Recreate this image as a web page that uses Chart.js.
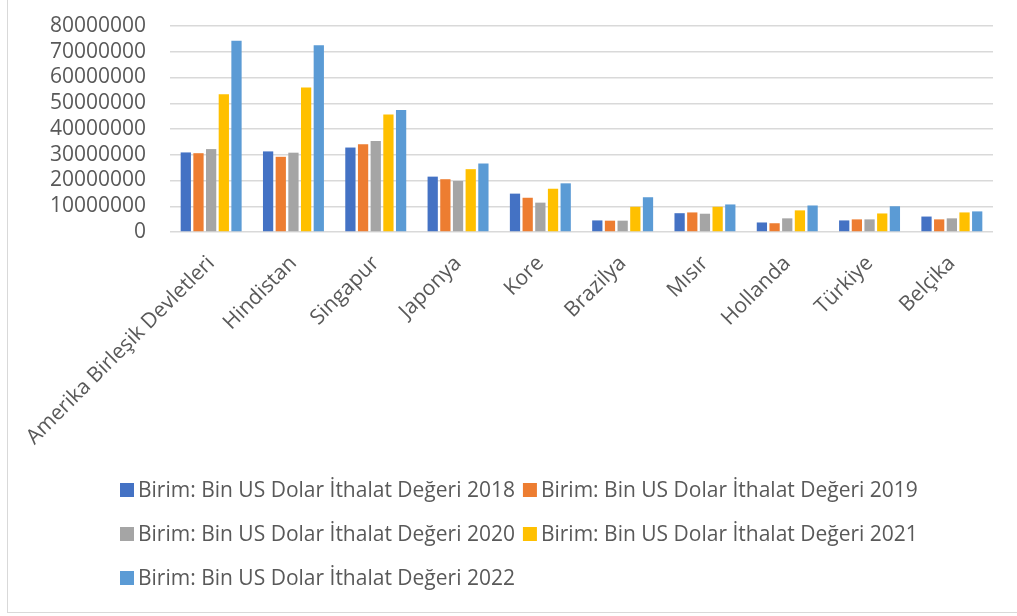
<!DOCTYPE html>
<html lang="tr">
<head>
<meta charset="utf-8">
<title>İthalat Değeri</title>
<script src="https://cdn.jsdelivr.net/npm/chart.js@4/dist/chart.umd.min.js"></script>
<style>
    html, body { margin: 0; padding: 0; background: #ffffff; overflow: hidden; }
    #wrap { position: relative; width: 1017px; height: 616px; }
    #frame {
        position: absolute; left: 7px; top: 0; width: 1100px; height: 612px;
        border-left: 1.5px solid #d9d9d9; border-bottom: 1.5px solid #d9d9d9;
        pointer-events: none;
    }
</style>
</head>
<body>
<div id="wrap">
    <canvas id="importChart"></canvas>
    <div id="frame"></div>
</div>
<script>
// categories (countries)
const countries = ['Amerika Birleşik Devletleri', 'Hindistan', 'Singapur', 'Japonya', 'Kore',
    'Brazilya', 'Mısır', 'Hollanda', 'Türkiye', 'Belçika'];

// series labels
const seriesLabels = [
    'Birim: Bin US Dolar İthalat Değeri 2018',
    'Birim: Bin US Dolar İthalat Değeri 2019',
    'Birim: Bin US Dolar İthalat Değeri 2020',
    'Birim: Bin US Dolar İthalat Değeri 2021',
    'Birim: Bin US Dolar İthalat Değeri 2022'
];

// values
const values2018 = [30900000, 31300000, 32800000, 21500000, 14900000, 4500000, 7300000, 3700000, 4500000, 6000000];
const values2019 = [30600000, 29200000, 34100000, 20500000, 13300000, 4400000, 7600000, 3400000, 4900000, 4900000];
const values2020 = [32200000, 30800000, 35300000, 19800000, 11400000, 4400000, 7100000, 5300000, 4900000, 5300000];
const values2021 = [53500000, 56100000, 45600000, 24400000, 16800000, 9800000, 9800000, 8400000, 7200000, 7600000];
const values2022 = [74300000, 72500000, 47400000, 26600000, 18900000, 13500000, 10700000, 10300000, 10000000, 8000000];

// y axis ticks
const yTicks = [0, 10000000, 20000000, 30000000, 40000000, 50000000, 60000000, 70000000, 80000000];

document.addEventListener('DOMContentLoaded', function () {
    const colors = ['#4472C4', '#ED7D31', '#A5A5A5', '#FFC000', '#5B9BD5'];
    const textColor = '#595959';
    const family = "'Open Sans', 'Noto Sans', sans-serif";

    const seriesValues = [values2018, values2019, values2020, values2021, values2022];

    // legend drawn like Excel: two items per row, left aligned
    const excelLegend = {
        id: 'excelLegend',
        afterDraw(chart) {
            const ctx = chart.ctx;
            ctx.save();
            ctx.font = `21px ${family}`;
            ctx.textBaseline = 'middle';
            ctx.textAlign = 'left';
            let x = 120;
            chart.data.datasets.forEach((ds, i) => {
                const row = Math.floor(i / 2);
                if (i % 2 === 0) x = 120;
                const cy = 490 + row * 44;
                ctx.fillStyle = ds.backgroundColor;
                ctx.fillRect(x, cy - 7, 14, 14);
                ctx.fillStyle = textColor;
                ctx.fillText(ds.label, x + 18, cy + 1);
                x += 18 + ctx.measureText(ds.label).width + 8;
            });
            ctx.restore();
        }
    };

    new Chart(document.getElementById('importChart'), {
        type: 'bar',
        data: {
            labels: countries,
            datasets: seriesLabels.map((label, i) => ({
                label: label,
                data: seriesValues[i],
                backgroundColor: colors[i],
                borderWidth: 0,
                categoryPercentage: 0.77,
                barPercentage: 0.81
            }))
        },
        options: {
            responsive: true,
            maintainAspectRatio: false,
            animation: false,
            layout: {
                padding: { top: 26, left: 0, right: 24, bottom: 160 }
            },
            scales: {
                x: {
                    grid: { display: false },
                    border: { display: false },
                    ticks: {
                        autoSkip: false,
                        minRotation: 45,
                        maxRotation: 45,
                        padding: 11,
                        color: textColor,
                        font: { size: 21, family: family }
                    },
                    afterFit: scale => { scale.height = 224; }
                },
                y: {
                    min: 0,
                    max: 80000000,
                    afterBuildTicks: scale => {
                        scale.ticks = yTicks.map(v => ({ value: v }));
                    },
                    grid: { color: '#d9d9d9', lineWidth: 1.5, drawTicks: false },
                    border: { display: false },
                    ticks: {
                        autoSkip: false,
                        padding: 24,
                        color: textColor,
                        font: { size: 21, family: family },
                        callback: v => String(v)
                    },
                    afterFit: scale => {
                        scale.width = 170;
                        // keep the plot top fixed by the layout padding only
                        scale.paddingTop = 0;
                        scale.paddingBottom = 0;
                    }
                }
            },
            plugins: {
                legend: { display: false },
                tooltip: { enabled: false }
            }
        },
        plugins: [excelLegend]
    });
});
</script>
</body>
</html>
